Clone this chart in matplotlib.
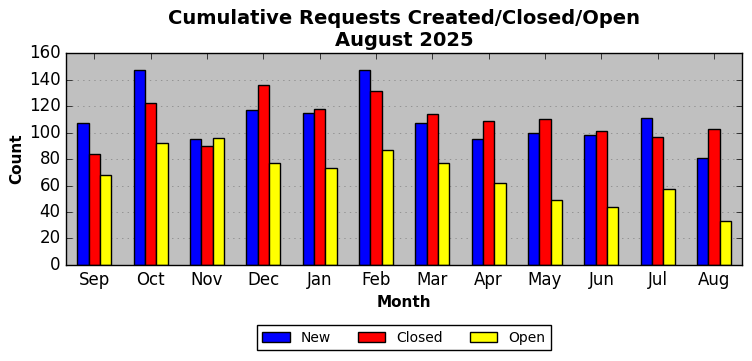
import numpy as np
import matplotlib.pyplot as plt

months = ["Sep", "Oct", "Nov", "Dec", "Jan", "Feb", "Mar", "Apr", "May", "Jun", "Jul", "Aug"]
new = [107, 147, 95, 117, 115, 147, 107, 95, 100, 98, 111, 81]
closed = [84, 122, 90, 136, 118, 131, 114, 109, 110, 101, 97, 103]
open_ = [68, 92, 96, 77, 73, 87, 77, 62, 49, 44, 57, 33]


def main():
    plt.style.use("classic")
    fig = plt.figure(figsize=(7.52, 3.61), dpi=100, facecolor="white")
    ax = fig.add_axes([0.088, 0.266, 0.899, 0.587])
    ax.set_facecolor("#c0c0c0")

    x = np.arange(len(months))
    w = 0.2
    ax.bar(x - w, new, w, color="blue", edgecolor="black", label="New", align="center")
    ax.bar(x, closed, w, color="red", edgecolor="black", label="Closed", align="center")
    ax.bar(x + w, open_, w, color="yellow", edgecolor="black", label="Open", align="center")

    ax.set_xlim(-0.5, 11.5)
    ax.set_ylim(0, 160)
    ax.set_yticks(range(0, 161, 20))
    ax.set_xticks(x)
    ax.set_xticklabels(months, fontsize=12)
    ax.tick_params(axis="y", labelsize=12)
    ax.yaxis.grid(True, linestyle=":", color="#808080")
    ax.xaxis.grid(False)
    ax.set_axisbelow(True)

    ax.set_xlabel("Month", fontsize=11, fontweight="bold")
    ax.set_ylabel("Count", fontsize=11, fontweight="bold", labelpad=3)
    ax.set_title("Cumulative Requests Created/Closed/Open\nAugust 2025", fontsize=14, fontweight="bold")

    fig.legend(loc="center", bbox_to_anchor=(0.537, 0.064), ncol=3, fontsize=10, handlelength=2,
               columnspacing=1.9, fancybox=False, borderpad=0.4)

    fig.savefig("out.png", facecolor="white")


if __name__ == '__main__':
    main()
